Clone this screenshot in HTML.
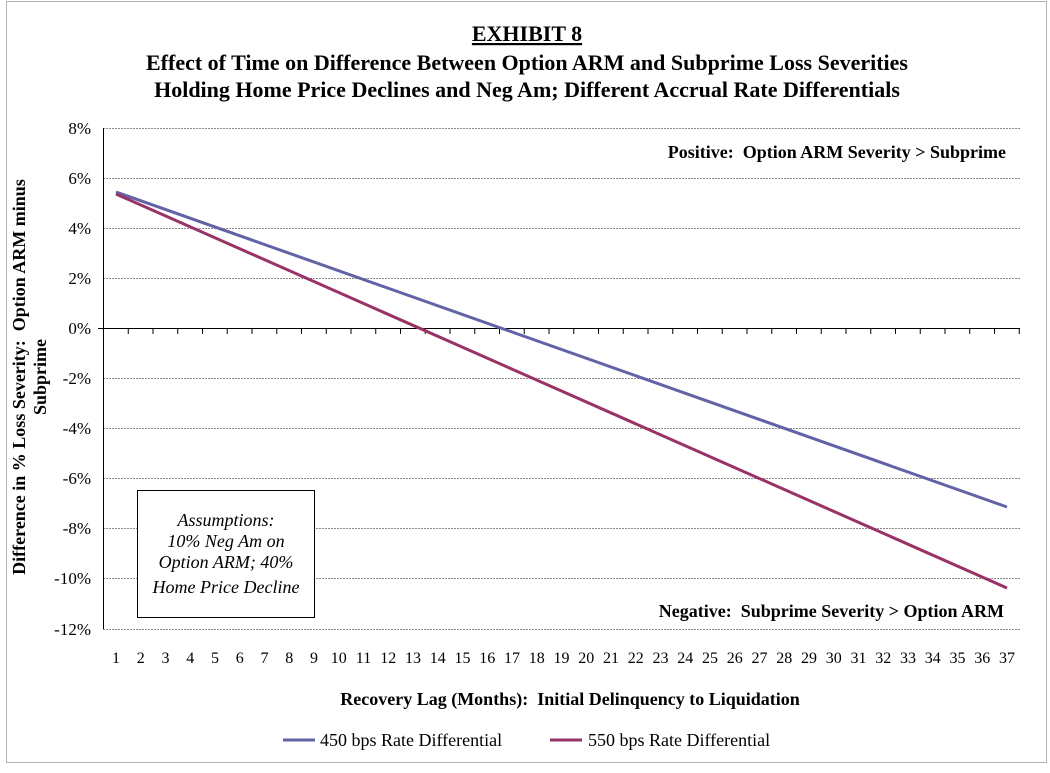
<!DOCTYPE html>
<html><head><meta charset="utf-8"><style>
body{margin:0;background:#fff;}
svg text{font-family:"Liberation Serif",serif;white-space:pre;}
</style></head><body>
<svg width="1050" height="768" xmlns="http://www.w3.org/2000/svg" xml:space="preserve">
<rect x="6.5" y="1.5" width="1040" height="761" fill="none" stroke="#666" stroke-dasharray="1,1"/>
<g font-weight="bold" font-size="22" text-anchor="middle" fill="#000">
<text x="527" y="41" text-decoration="underline">EXHIBIT 8</text>
<text x="527" y="70">Effect of Time on Difference Between Option ARM and Subprime Loss Severities</text>
<text x="527" y="97">Holding Home Price Declines and Neg Am; Different Accrual Rate Differentials</text>
</g>
<g stroke="#888" stroke-width="1" stroke-dasharray="2,1">
<line x1="103" x2="1020" y1="128.5" y2="128.5"/>
<line x1="103" x2="1020" y1="178.5" y2="178.5"/>
<line x1="103" x2="1020" y1="228.5" y2="228.5"/>
<line x1="103" x2="1020" y1="278.5" y2="278.5"/>
<line x1="103" x2="1020" y1="378.5" y2="378.5"/>
<line x1="103" x2="1020" y1="428.5" y2="428.5"/>
<line x1="103" x2="1020" y1="478.5" y2="478.5"/>
<line x1="103" x2="1020" y1="528.5" y2="528.5"/>
<line x1="103" x2="1020" y1="578.5" y2="578.5"/>
<line x1="103" x2="1020" y1="629.5" y2="629.5"/>
</g>
<line x1="103.5" x2="103.5" y1="128" y2="629" stroke="#000"/>
<line x1="98" x2="1020" y1="328.5" y2="328.5" stroke="#000"/>
<g stroke="#000" id="ticks"></g>
<g font-size="17" text-anchor="end">
<text x="91" y="134">8%</text><text x="91" y="184">6%</text><text x="91" y="234">4%</text>
<text x="91" y="284">2%</text><text x="91" y="334">0%</text><text x="91" y="384">-2%</text>
<text x="91" y="434">-4%</text><text x="91" y="484">-6%</text><text x="91" y="534">-8%</text>
<text x="91" y="584">-10%</text><text x="91" y="635">-12%</text>
</g>
<g font-size="16" text-anchor="middle" id="xl"></g>
<g font-weight="bold" font-size="18">
<text x="1006" y="158" text-anchor="end">Positive:  Option ARM Severity &gt; Subprime</text>
<text x="1004" y="617" text-anchor="end">Negative:  Subprime Severity &gt; Option ARM</text>
<text x="570" y="705" text-anchor="middle">Recovery Lag (Months):  Initial Delinquency to Liquidation</text>
<text transform="translate(25,377) rotate(-90)" text-anchor="middle">Difference in % Loss Severity:  Option ARM minus</text>
<text transform="translate(46,377) rotate(-90)" text-anchor="middle">Subprime</text>
</g>
<rect x="137.5" y="490.5" width="177" height="127" fill="#fff" stroke="#000"/>
<g font-size="18" font-style="italic" text-anchor="middle">
<text x="226" y="526">Assumptions:</text>
<text x="226" y="547">10% Neg Am on</text>
<text x="226" y="568">Option ARM; 40%</text>
<text x="226" y="593">Home Price Decline</text>
</g>
<line x1="116" y1="192" x2="1007" y2="507" stroke="#6262a6" stroke-width="3"/>
<line x1="116" y1="194" x2="1007" y2="588" stroke="#993366" stroke-width="3"/>
<line x1="283" y1="740" x2="315" y2="740" stroke="#6262a6" stroke-width="3"/>
<line x1="550" y1="740" x2="582" y2="740" stroke="#993366" stroke-width="3"/>
<g font-size="18"><text x="320" y="746">450 bps Rate Differential</text><text x="588" y="746">550 bps Rate Differential</text></g>
<script>
var t=document.getElementById('ticks'),xl=document.getElementById('xl'),ns='http://www.w3.org/2000/svg';
for(var i=0;i<=37;i++){var x=103.5+i*24.75;var l=document.createElementNS(ns,'line');l.setAttribute('x1',x);l.setAttribute('x2',x);l.setAttribute('y1',328);l.setAttribute('y2',334);t.appendChild(l);
if(i<37){var s=document.createElementNS(ns,'text');s.setAttribute('x',116+i*24.75);s.setAttribute('y',663);s.textContent=i+1;xl.appendChild(s);}}
</script>
</svg>
</body></html>
